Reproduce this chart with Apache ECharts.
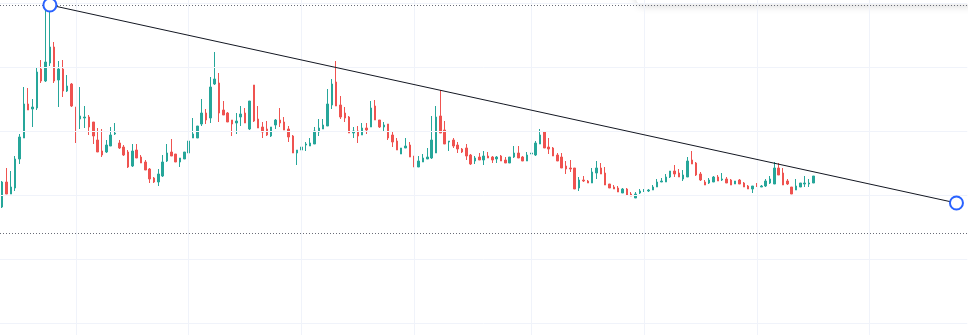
<!DOCTYPE html>
<html>
<head>
<meta charset="utf-8">
<style>html,body{margin:0;padding:0;background:#fff}#c{width:968px;height:335px}</style>
<script src="https://cdn.jsdelivr.net/npm/echarts@6/dist/echarts.min.js"></script>
</head>
<body>
<div id="c"></div>
<script>
// ---- data ----
const opens = [180,205,193,199,228,249,283,278,279,318,306,324,340,307,318,296,303,280,268,269,270,265,247,236,235,241,253,244,240,235,221,237,230,225,218,209,205,211,226,235,233,225,228,234,249,249,263,274,269,303,304,277,274,267,264,270,274,258,302,268,260,258,251,262,267,265,258,251,234,237,242,241,243,255,258,261,282,305,282,274,270,254,256,252,259,260,281,267,260,263,252,246,233,239,242,231,220,225,228,229,234,271,257,245,247,242,238,239,232,226,230,227,231,230,228,231,227,224,230,234,230,226,233,232,243,255,240,239,232,230,221,219,219,199,207,206,204,214,219,214,203,200,199,194,198,193,189,194,196,196,197,200,205,205,210,216,214,208,210,227,224,213,205,204,205,210,207,208,207,203,207,204,201,198,202,200,201,204,203,219,214,206,200,197,200,203,203,204];
const closes = [205,193,200,228,250,283,277,280,315,306,325,340,306,318,296,301,281,259,271,270,260,251,235,232,242,252,254,239,232,220,236,229,224,217,208,205,213,225,234,231,225,229,235,246,253,261,274,267,300,308,274,272,265,263,266,273,264,286,266,259,255,252,260,267,264,257,250,234,237,240,243,244,256,259,262,283,303,281,270,269,254,256,251,259,257,279,267,260,262,249,245,237,239,241,230,220,226,229,230,247,270,254,243,246,241,238,235,231,223,229,227,231,229,227,230,226,224,230,234,229,226,232,234,244,252,239,238,231,226,219,218,218,198,207,206,204,215,219,213,202,199,198,195,198,192,191,193,196,197,197,200,205,206,210,216,213,210,212,226,223,212,207,202,207,210,206,208,204,202,206,203,200,198,201,201,201,206,208,219,212,202,203,193,201,204,204,204,211];
const lows = [179,193,193,196,223,249,277,260,277,304,305,321,304,280,290,295,280,244,258,259,252,243,235,230,234,241,252,238,231,219,220,229,224,217,204,204,201,210,225,231,225,220,228,231,249,249,261,263,264,302,265,272,265,251,253,261,264,257,265,259,249,251,250,258,260,257,245,234,222,236,236,241,243,251,258,261,278,281,268,265,254,249,244,252,253,260,267,259,256,247,240,237,233,239,230,220,220,225,228,228,234,254,243,236,239,234,234,227,222,223,227,222,229,224,224,226,224,224,229,229,226,226,231,231,243,239,233,231,226,219,213,215,198,196,205,204,204,208,213,202,199,198,195,194,191,191,189,193,195,195,197,200,205,205,209,210,210,206,210,223,211,206,202,203,205,206,206,204,202,203,203,200,198,194,200,200,200,203,203,212,202,202,193,197,200,200,200,204];
const highs = [206,219,216,231,253,300,299,288,319,327,377,382,345,326,327,312,304,280,300,281,272,265,259,258,247,260,264,247,242,237,243,243,232,227,219,210,218,232,243,248,233,229,235,246,269,261,288,278,310,335,314,286,275,267,274,281,279,286,302,281,265,266,260,268,279,270,261,252,237,245,245,249,260,268,268,298,308,326,291,280,271,260,261,264,264,286,287,267,265,263,255,249,239,249,245,231,231,233,239,271,281,297,266,246,249,245,239,243,233,231,234,236,235,231,231,232,230,230,241,241,231,235,239,246,258,256,249,240,234,234,226,227,219,210,211,207,219,226,224,220,203,202,201,199,199,195,195,198,198,198,202,208,209,213,216,222,218,217,230,236,225,215,207,209,211,212,214,210,208,206,208,205,202,201,204,202,208,211,225,224,219,208,200,208,204,211,208,211];
const emptySlots = 35;                         // future space after the last candle
const categories = [];
for (let i = 0; i < opens.length + emptySlots; i++) categories.push('D' + (i + 1));
const priceLevels = [64, 128, 192, 256, 320, 384];      // horizontal grid levels
const gridDates = [17, 43, 69, 95, 122, 148, 174, 200]; // vertical grid at these candles
const trendStart = [11, 382];   // [category index, price]
const trendEnd = [220, 184];
const hLines = [382, 154];      // dotted horizontal drawings

const candleData = opens.map((o, i) => [o, closes[i], lows[i], highs[i]]);

const chart = echarts.init(document.getElementById('c'), null, {renderer: 'canvas'});
chart.setOption({
  animation: false,
  backgroundColor: '#ffffff',
  grid: {left: -0.7, right: 0.7, top: 0, bottom: 0, containLabel: false},
  xAxis: {
    type: 'category', data: categories, boundaryGap: true,
    axisLine: {show: false}, axisTick: {show: false}, axisLabel: {show: false},
    splitLine: {show: false}
  },
  yAxis: {
    type: 'value', min: 52, max: 387, scale: true,
    axisLine: {show: false}, axisTick: {show: false}, axisLabel: {show: false},
    splitLine: {show: false}
  },
  graphic: [{
    type: 'rect', z: 1,
    shape: {x: 636, y: -30, width: 340, height: 34.5, r: 6},
    style: {fill: '#ffffff', shadowBlur: 8, shadowColor: 'rgba(0,0,0,0.18)', shadowOffsetY: 1}
  }],
  series: [
    {
      type: 'line', data: [], z: 0, silent: true,
      markLine: {
        silent: true, symbol: ['none', 'none'], label: {show: false}, animation: false,
        lineStyle: {color: '#f0f3fa', width: 1, type: 'solid'},
        data: priceLevels.map(v => ({yAxis: v}))
          .concat(gridDates.map(i => ({xAxis: categories[i]})))
      }
    },
    {
      type: 'candlestick', data: candleData, barWidth: 2, z: 3,
      itemStyle: {
        color: '#26a69a', color0: '#ef5350',
        borderColor: '#26a69a', borderColor0: '#ef5350', borderWidth: 1
      }
    },
    {
      type: 'line', z: 6, silent: true,
      data: [[categories[trendStart[0]], trendStart[1]], [categories[trendEnd[0]], trendEnd[1]]],
      lineStyle: {color: '#131722', width: 1},
      symbol: 'circle', symbolSize: 13, showSymbol: true, showAllSymbol: true,
      itemStyle: {color: '#ffffff', borderColor: '#2962ff', borderWidth: 2},
      markLine: {
        silent: true, symbol: ['none', 'none'], label: {show: false}, animation: false,
        lineStyle: {color: '#6a6d78', width: 1, type: [1, 2]},
        data: hLines.map(v => ({yAxis: v}))
      }
    }
  ]
});
</script>
</body>
</html>
